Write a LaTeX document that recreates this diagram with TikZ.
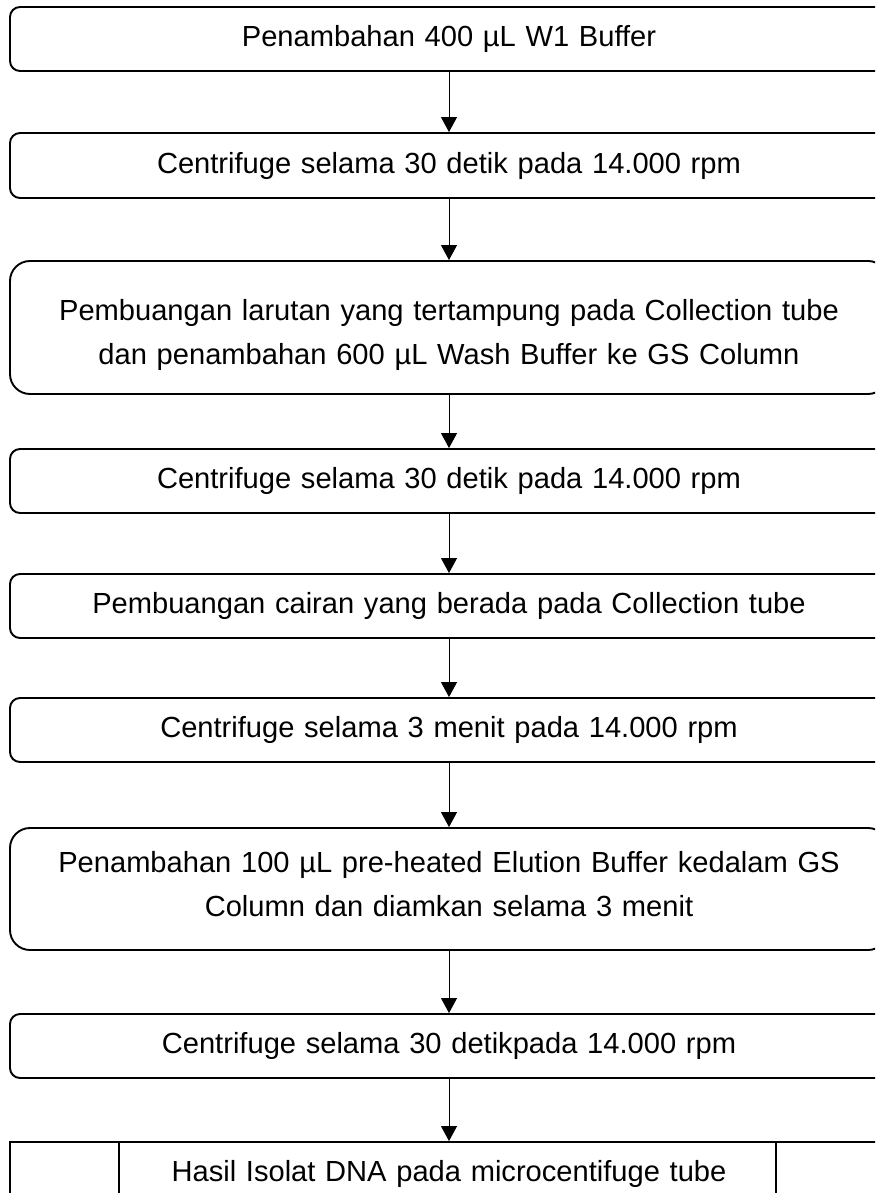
\documentclass[tikz,border=0pt]{standalone}
\usepackage{fontspec}
\setmainfont{Liberation Sans}
\usetikzlibrary{arrows.meta}
\begin{document}
\begin{tikzpicture}[x=1pt,y=-1pt,
  txt/.style={text width=858pt, inner xsep=10pt, inner ysep=0pt, align=center, font=\fontsize{29.1}{44}\selectfont},
  stepbox/.style={txt, draw, line width=1.9pt, rounded corners=10pt},
  bigbox/.style={stepbox, rounded corners=20pt},
  endbox/.style={stepbox, rounded corners=0pt},
  arr/.style={line width=1pt, -{Triangle[width=16pt,length=15pt]}}]
\useasboundingbox (0,0) rectangle (875,1193);
\clip (0,0) rectangle (875,1193);
\node[stepbox, minimum height=64pt] (b1) at (449,39) {Penambahan 400 µL W1 Buffer};
\node[stepbox, minimum height=65pt] (b2) at (449,165.5) {Centrifuge selama 30 detik pada 14.000 rpm};
\node[bigbox, minimum height=133pt] (b3) at (449,327.5) {};
\node[txt] (t3) at ([yshift=-7pt]b3.center) {Pembuangan larutan yang tertampung pada Collection tube\\dan penambahan 600 µL Wash Buffer ke GS Column};
\node[stepbox, minimum height=64pt] (b4) at (449,481) {Centrifuge selama 30 detik pada 14.000 rpm};
\node[stepbox, minimum height=64pt] (b5) at (449,606) {Pembuangan cairan yang berada pada Collection tube};
\node[stepbox, minimum height=64pt] (b6) at (449,730) {Centrifuge selama 3 menit pada 14.000 rpm};
\node[bigbox, minimum height=122pt] (b7) at (449,889) {};
\node[txt] (t7) at ([yshift=5pt]b7.center) {Penambahan 100 µL pre-heated Elution Buffer kedalam GS\\Column dan diamkan selama 3 menit};
\node[stepbox, minimum height=64pt] (b8) at (449,1046) {Centrifuge selama 30 detikpada 14.000 rpm};
\node[endbox, minimum height=64pt] (b9) at (449,1174) {Hasil Isolat DNA pada microcentifuge tube};
\draw[line width=1.9pt] ([xshift=110pt]b9.north west) -- ([xshift=110pt]b9.south west);
\draw[line width=1.9pt] ([xshift=767pt]b9.north west) -- ([xshift=767pt]b9.south west);
\draw[arr] (b1) -- (b2);
\draw[arr] (b2) -- (b3);
\draw[arr] (b3) -- (b4);
\draw[arr] (b4) -- (b5);
\draw[arr] (b5) -- (b6);
\draw[arr] (b6) -- (b7);
\draw[arr] (b7) -- (b8);
\draw[arr] (b8) -- (b9);
\end{tikzpicture}
\end{document}
